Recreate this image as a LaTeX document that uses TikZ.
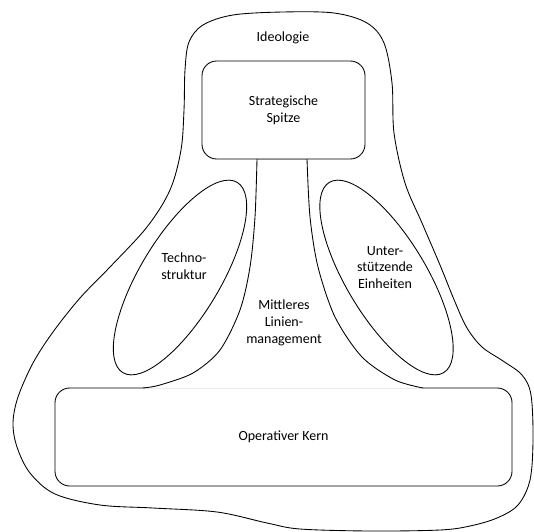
\documentclass[tikz,border=0pt]{standalone}
\usepackage{fontspec}
\setmainfont{Carlito}
\begin{document}
\begin{tikzpicture}[x=0.75pt,y=-0.75pt,
  line width=0.65pt,
  partbox/.style={draw=black, fill=white, rounded corners=11pt,
    minimum width=#1, minimum height=73.5pt, inner sep=0pt},
  txt/.style={align=center, inner sep=0pt,
    font=\fontsize{10.5}{12.6}\selectfont},
  oval/.style={draw=black}]

\useasboundingbox (0,0) rectangle (534,531);

% Ideologie: the enclosing outline
\draw[smooth cycle, tension=0.55] plot coordinates {
  (283,12) (334,13) (367,23) (384,43) (392,83) (394,133) (405,183)
  (422,223) (440,265) (455,302) (467,328) (482,347) (503,361) (522,375)
  (531,395) (533,440) (530,480) (518,505) (497,518) (470,526) (440,530)
  (370,531) (300,529) (267,523) (217,512) (153,508) (100,505) (55,494)
  (30,473) (17,447) (13,423) (18,397) (33,363) (53,332) (80,298)
  (110,267) (147,227) (170,190) (181,150) (184,110) (185,70) (189,42)
  (203,25) (233,15)};

% staff units
\coordinate (tc) at (180,277.5);
\coordinate (uc) at (386.5,277.5);
\draw[oval, rotate around={59:(tc)}] (tc) ellipse [x radius=83.25pt, y radius=30pt];
\draw[oval, rotate around={-59:(uc)}] (uc) ellipse [x radius=83.25pt, y radius=30pt];

% strategic apex and operating core
\node[partbox=122.25pt] (apex) at (283.5,110) {};
\node[partbox=342.75pt] (core) at (283.5,437) {};

% middle line: white body over the box edges
\fill[white] plot[smooth] coordinates {(257,159) (255,217) (250,267) (240,310)
    (220,350) (193,373) (160,385) (143,388)}
  -- plot[smooth] coordinates {(423,388) (395,380) (362,357) (335,317)
    (318,267) (310,217) (307,159)} -- cycle;
\draw[black!45] (257,159) -- (307,159);
\draw[black!8] (143,388) -- (423,388);
\draw plot[smooth] coordinates {(257,159) (255,217) (250,267) (240,310)
    (220,350) (193,373) (160,385) (143,388)};
\draw plot[smooth] coordinates {(423,388) (395,380) (362,357) (335,317)
    (318,267) (310,217) (307,159)};

% labels
\node[txt] (ideo) at (283,38) {Ideologie};
\node[txt] (apexlabel) at (apex) {Strategische\\Spitze};
\node[txt] (techno) at (184,266) {Techno-\\struktur};
\node[txt] (support) at (385,267.5) {Unter-\\stützende\\Einheiten};
\node[txt] (middle) at (284,323) {Mittleres\\Linien-\\management};
\node[txt] (corelabel) at (core) {Operativer Kern};
\end{tikzpicture}
\end{document}
